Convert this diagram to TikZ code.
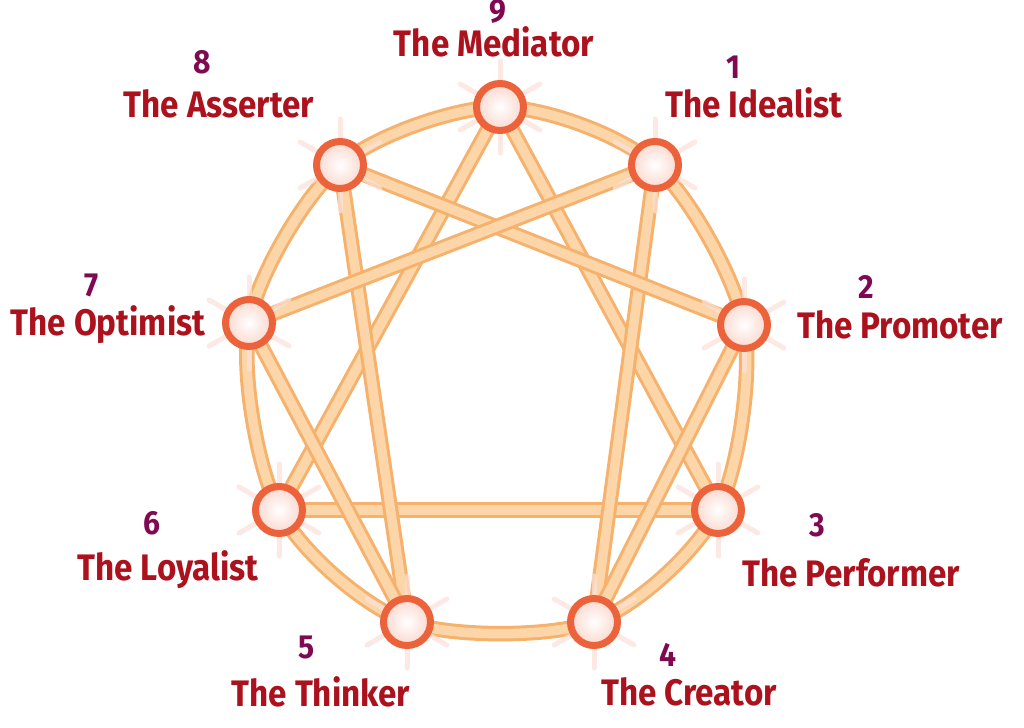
\documentclass[tikz,border=0pt]{standalone}
\usepackage{fontspec}
\newfontfamily\typefont{Fira Sans}[FakeStretch=0.9]
\usetikzlibrary{backgrounds}
\definecolor{tubeedge}{RGB}{246,178,108}
\definecolor{tubefill}{RGB}{252,214,168}
\definecolor{ringred}{RGB}{236,98,58}
\definecolor{namered}{RGB}{172,18,30}
\definecolor{numpurple}{RGB}{128,10,82}

\begin{document}
\begin{tikzpicture}[x=0.02cm,y=-0.02cm]
\tikzset{
  point/.style={draw=ringred,circle,line width=0.14cm,minimum size=0.94cm,inner sep=0pt,
    inner color=white,outer color=ringred!25},
  tube/.style={draw=tubeedge,line width=0.06cm,double=tubefill,double distance=0.19cm},
  spoke/.style={draw=ringred!20,line width=0.1cm,line cap=round,opacity=0.7},
  typenum/.style={font=\typefont\bfseries\fontsize{19}{22}\selectfont,text=numpurple,inner sep=0pt},
  typename/.style={font=\typefont\bfseries\fontsize{21}{25}\selectfont,text=namered,inner sep=1pt}
}
\useasboundingbox (0,0) rectangle (1024,727);

% the nine points
\node (n9) [point] at (500,107) {};
\node (n1) [point] at (655,165) {};
\node (n2) [point] at (744,325) {};
\node (n3) [point] at (718,510) {};
\node (n4) [point] at (594,622) {};
\node (n5) [point] at (407,622) {};
\node (n6) [point] at (279,510) {};
\node (n7) [point] at (249,323) {};
\node (n8) [point] at (340,165) {};

% labels
\node (num9) [typenum] at (498,11) {9};
\node (name9) [typename] at (494,42) {The Mediator};
\node (num1) [typenum] at (733,67) {1};
\node (name1) [typename] at (754,103) {The Idealist};
\node (num2) [typenum] at (866,287) {2};
\node (name2) [typename] at (900,325) {The Promoter};
\node (num3) [typenum] at (817,525) {3};
\node (name3) [typename] at (851,573) {The Performer};
\node (num4) [typenum] at (668,655) {4};
\node (name4) [typename] at (689,692) {The Creator};
\node (num5) [typenum] at (307,647) {5};
\node (name5) [typename] at (321,692) {The Thinker};
\node (num6) [typenum] at (152,523) {6};
\node (name6) [typename] at (168,570) {The Loyalist};
\node (num7) [typenum] at (92,285) {7};
\node (name7) [typename] at (108,325) {The Optimist};
\node (num8) [typenum] at (202,62) {8};
\node (name8) [typename] at (219,104) {The Asserter};

\begin{pgfonlayer}{background}
   \fill[white] (0,0) rectangle (1024,727);
   % outer ring
   \draw[tube] plot[smooth cycle] coordinates {(n9.center) (n1.center) (n2.center) (n3.center)
      (n4.center) (n5.center) (n6.center) (n7.center) (n8.center)};
   % inner lines
   \draw[tube] (n9.center) -- (n3.center);
   \draw[tube] (n3.center) -- (n6.center);
   \draw[tube] (n6.center) -- (n9.center);
   \draw[tube] (n1.center) -- (n4.center);
   \draw[tube] (n4.center) -- (n2.center);
   \draw[tube] (n2.center) -- (n8.center);
   \draw[tube] (n8.center) -- (n5.center);
   \draw[tube] (n5.center) -- (n7.center);
   \draw[tube] (n7.center) -- (n1.center);
   % glow round the points
   \foreach \n in {n1,n2,n3,n4,n5,n6,n7,n8,n9}
      \foreach \a in {30,90,...,330}
         \draw[spoke] (\n.center) -- ++(\a:46);
\end{pgfonlayer}
\end{tikzpicture}
\end{document}
